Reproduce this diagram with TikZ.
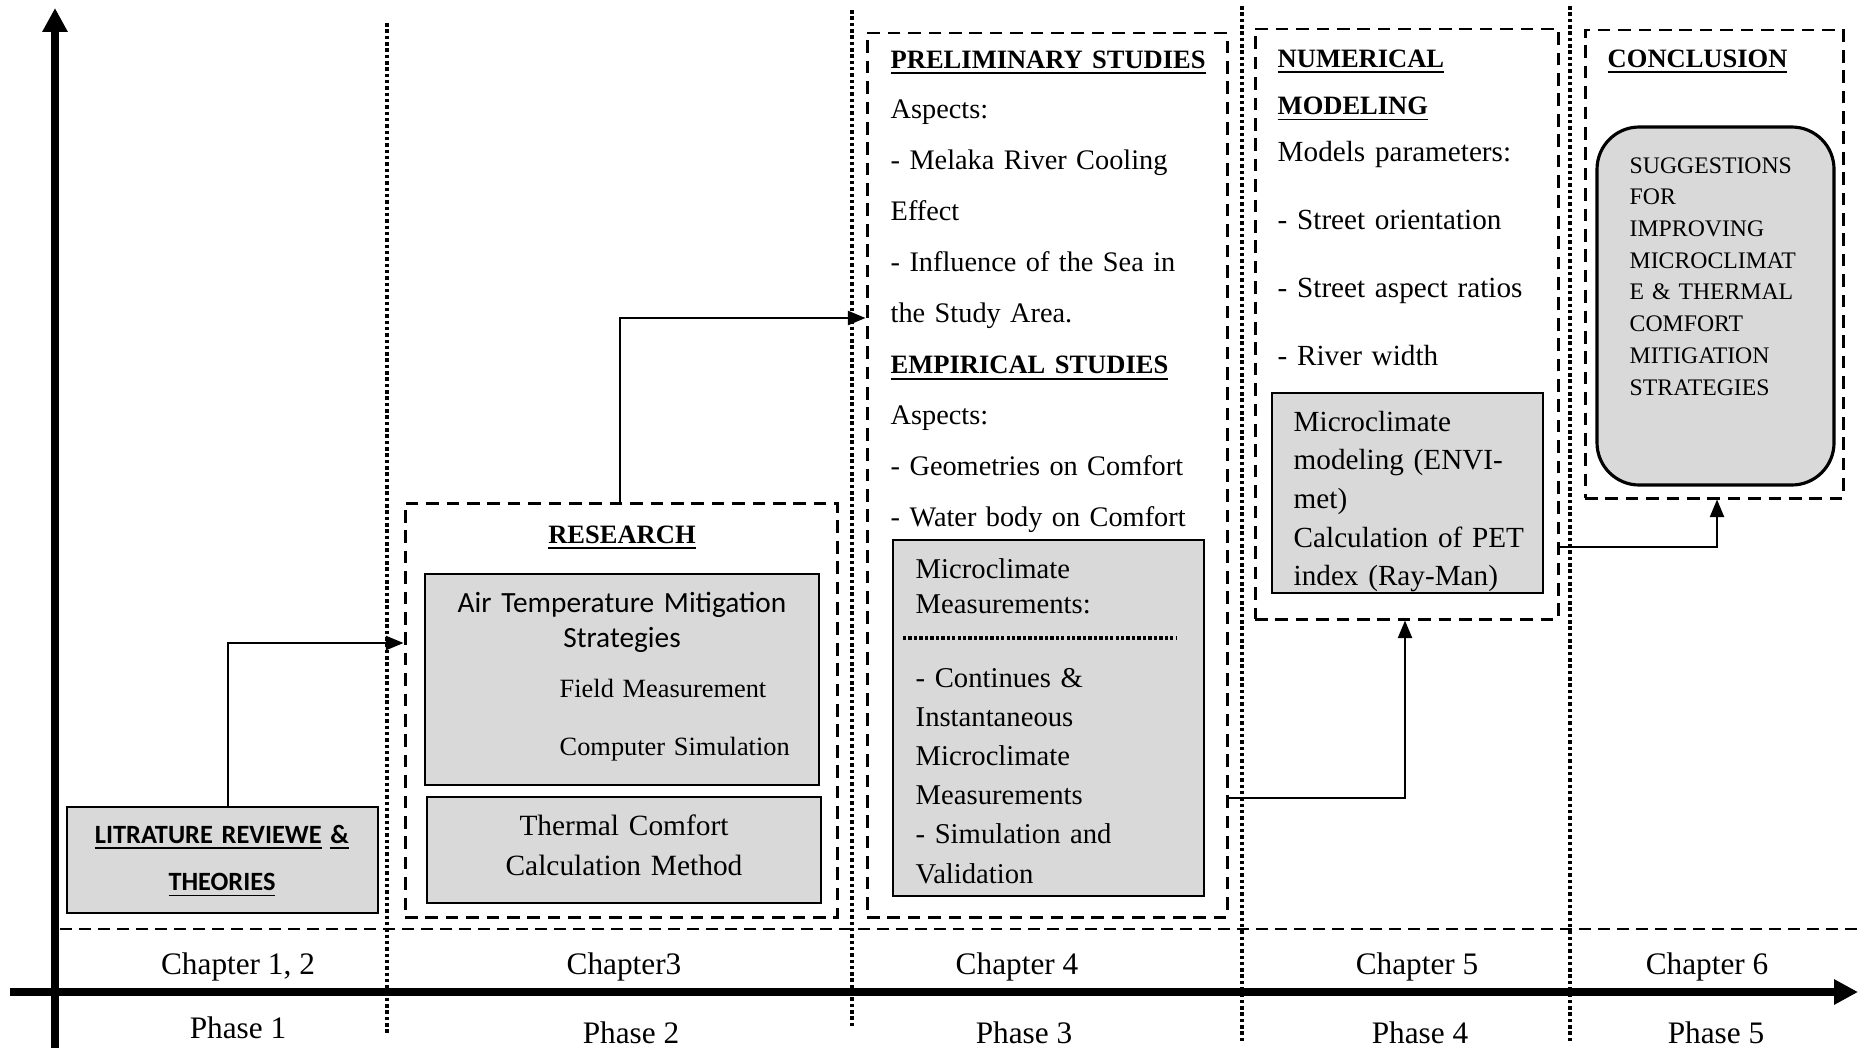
\documentclass[tikz,border=0pt]{standalone}
\usepackage{fontspec}
\setmainfont{Liberation Serif}
\newfontfamily\calibrifont{Carlito}
\usetikzlibrary{arrows.meta, positioning, fit}
\definecolor{boxgray}{RGB}{217, 217, 217}
\newcommand{\ulhead}[1]{{\fontsize{7.54}{10}\selectfont\bfseries\underline{#1}}}

\begin{document}
\begin{tikzpicture}[
  x=0.01cm, y=-0.01cm,
  dbox/.style={draw, line width=0.85pt, dash pattern=on 3.6pt off 2.2pt, inner sep=0pt},
  gbox/.style={draw, line width=0.55pt, fill=boxgray, inner sep=0pt},
  rbox/.style={draw, line width=0.9pt, fill=boxgray, rounded corners=12pt, inner sep=0pt},
  divider/.style={line width=1pt, dash pattern=on 1pt off 0.8pt},
  axisline/.style={line width=2.2pt, -{Triangle[length=6.8pt, width=6.8pt]}},
  link/.style={line width=0.6pt, -{Triangle[length=5pt, width=4pt]}},
  body/.style={inner sep=0pt, anchor=base west, align=left, text width=3.6cm},
  axistxt/.style={inner sep=0pt, anchor=base, font=\fontsize{8.9}{10}\selectfont}
]
  \useasboundingbox (0,0) rectangle (1858,1051);

  % axes and phase borders
  \draw[axisline] (55,1048) -- (55,8);
  \draw[axisline] (10,992) -- (1858,992);
  \draw[line width=0.55pt, dash pattern=on 3.4pt off 2pt] (60,929) -- (1858,929);
  \draw[divider] (387,23) -- (387,1033);
  \draw[divider] (852,10) -- (852,1028);
  \draw[divider] (1242,6) -- (1242,1043);
  \draw[divider] (1570,6) -- (1570,1043);

  % phase 1
  \node[gbox, fit={(67,807) (378,913)}] (lit) {};
  \node[inner sep=0pt, anchor=base, align=center, text width=3cm, font=\calibrifont\bfseries\fontsize{7.5}{13.4}\selectfont] (littxt) at (222,843) {\underline{LITRATURE REVIEWE} \underline{\&}\\\underline{THEORIES}};

  % phase 2
  \node[dbox, fit={(405,503) (837,917)}] (research) {};
  \node[inner sep=0pt, anchor=base] (researchtxt) at (622,543) {\ulhead{RESEARCH}};
  \node[gbox, fit={(425,574) (819,785)}] (airbox) {};
  \node[inner sep=0pt, anchor=base, align=center, text width=3.8cm, font=\calibrifont\fontsize{8.34}{10}\selectfont] (airtxt) at (622,612) {Air Temperature Mitigation\\Strategies};
  \node[body, font=\fontsize{7.5}{16.5}\selectfont] (methodtxt) at (559,697) {Field Measurement\\Computer Simulation};
  \node[gbox, fit={(427,797) (821,903)}] (thermal) {};
  \node[inner sep=0pt, anchor=base, align=center, text width=3.8cm, font=\fontsize{8.36}{11.4}\selectfont] (thermaltxt) at (624,835) {Thermal Comfort\\Calculation Method};

  % phase 3
  \node[dbox, fit={(867,33) (1227,917)}] (prelim) {};
  \node[body, font=\fontsize{8.05}{14.5}\selectfont] (prelimtxt) at (890,68) {\ulhead{PRELIMINARY STUDIES}\\Aspects:\\- Melaka River Cooling\\Effect\\- Influence of the Sea in\\the Study Area.\\\ulhead{EMPIRICAL STUDIES}\\Aspects:\\- Geometries on Comfort\\- Water body on Comfort};
  \node[gbox, fit={(893,540) (1204,896)}] (measbox) {};
  \node[body, font=\fontsize{8.15}{10}\selectfont] (meastop) at (915,578) {Microclimate\\Measurements:};
  \draw[line width=0.95pt, dash pattern=on 0.95pt off 0.6pt] (903,638) -- (1177,638);
  \node[body, font=\fontsize{8.15}{11.15}\selectfont] (measbot) at (915,687) {- Continues \&\\Instantaneous\\Microclimate\\Measurements\\- Simulation and\\Validation};

  % phase 4
  \node[dbox, fit={(1255,29) (1558,619)}] (numerical) {};
  \node[body, font=\fontsize{8.3}{13.4}\selectfont] (numtxt) at (1277,67) {\ulhead{NUMERICAL}\\\ulhead{MODELING}\\Models parameters:\\[5.95pt]- Street orientation\\[5.95pt]- Street aspect ratios\\[5.95pt]- River width};
  \node[gbox, fit={(1272,393) (1543,593)}] (envi) {};
  \node[body, font=\fontsize{8.3}{11}\selectfont] (envitxt) at (1293,431) {Microclimate\\modeling (ENVI-\\met)\\Calculation of PET\\index (Ray-Man)};

  % phase 5
  \node[dbox, fit={(1585,30) (1843,498)}] (conclusion) {};
  \node[inner sep=0pt, anchor=base west] (conctxt) at (1607,67) {\ulhead{CONCLUSION}};
  \node[rbox, fit={(1597,127) (1834,485)}] (suggest) {};
  \node[body, font=\fontsize{6.75}{9.02}\selectfont] (sugtxt) at (1629,173) {SUGGESTIONS\\FOR\\IMPROVING\\MICROCLIMAT\\E \& THERMAL\\COMFORT\\MITIGATION\\STRATEGIES};

  % links between phases
  \coordinate (k1) at (228,643);
  \coordinate (k2) at (620,318);
  \coordinate (k3) at (1405,798);
  \coordinate (k4) at (1717,547);
  \draw[link] (lit.north -| k1) -- (k1) -- (research.west |- k1);
  \draw[link] (research.north -| k2) -- (k2) -- (prelim.west |- k2);
  \draw[link] (prelim.east |- k3) -- (k3) -- (numerical.south -| k3);
  \draw[link] (numerical.east |- k4) -- (k4) -- (conclusion.south -| k4);

  % chapters and phases
  \node[axistxt] (ch1) at (238,974) {Chapter 1, 2};
  \node[axistxt] (ch3) at (624,974) {Chapter3};
  \node[axistxt] (ch4) at (1017,974) {Chapter 4};
  \node[axistxt] (ch5) at (1417,974) {Chapter 5};
  \node[axistxt] (ch6) at (1707,974) {Chapter 6};
  \node[axistxt] (ph1) at (238,1038) {Phase 1};
  \node[axistxt] (ph2) at (631,1043) {Phase 2};
  \node[axistxt] (ph3) at (1024,1043) {Phase 3};
  \node[axistxt] (ph4) at (1420,1043) {Phase 4};
  \node[axistxt] (ph5) at (1716,1043) {Phase 5};
\end{tikzpicture}
\end{document}
